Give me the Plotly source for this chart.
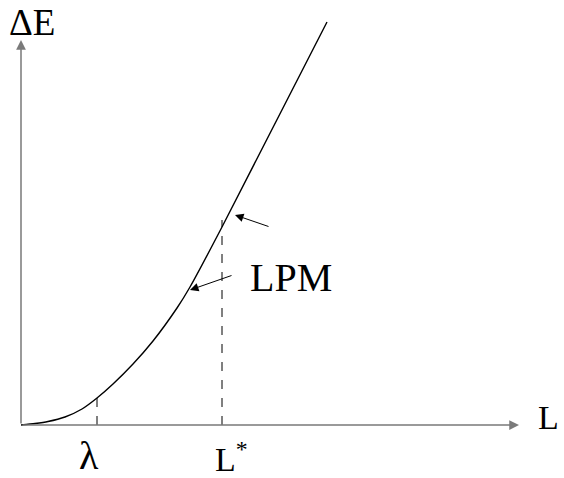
import plotly.graph_objects as go

# Curve data (L, ΔE) in arbitrary units
L_vals = [0.0, 0.14, 0.27, 0.44, 0.61, 0.76, 0.92, 1.12, 1.32, 1.56, 1.69, 2.01, 3.06]
E_vals = [0.0, 0.015, 0.035, 0.08, 0.16, 0.27, 0.41, 0.61, 0.84, 1.17, 1.38, 1.98, 4.03]

lambda_x = 0.76
lambda_top = 0.33
Lstar_x = 2.01
Lstar_top = 2.05

x_axis_end = 4.98
y_axis_end = 3.85

FONT = "Liberation Serif, Times New Roman, serif"

fig = go.Figure()

fig.add_trace(go.Scatter(x=L_vals, y=E_vals, mode="lines",
                         line=dict(color="black", width=1.4, shape="spline", smoothing=0.6),
                         hoverinfo="skip", showlegend=False))

# dashed markers
for xv, top in [(lambda_x, lambda_top), (Lstar_x, Lstar_top)]:
    fig.add_trace(go.Scatter(x=[xv, xv], y=[0, top], mode="lines",
                             line=dict(color="black", width=1, dash="dash"),
                             hoverinfo="skip", showlegend=False))

annotations = []
# axes with arrows
annotations.append(dict(x=x_axis_end, y=0, ax=0, ay=0, xref="x", yref="y", axref="x", ayref="y",
                        showarrow=True, arrowhead=2, arrowsize=1.3, arrowwidth=1.5, arrowcolor="#7a7a7a", text=""))
annotations.append(dict(x=0, y=y_axis_end, ax=0, ay=0, xref="x", yref="y", axref="x", ayref="y",
                        showarrow=True, arrowhead=2, arrowsize=1.3, arrowwidth=1.5, arrowcolor="#7a7a7a", text=""))
# LPM arrows
annotations.append(dict(x=2.14, y=2.10, ax=2.49, ay=1.98, xref="x", yref="y", axref="x", ayref="y",
                        showarrow=True, arrowhead=2, arrowsize=1.7, arrowwidth=1, arrowcolor="black", text=""))
annotations.append(dict(x=1.69, y=1.35, ax=2.12, ay=1.50, xref="x", yref="y", axref="x", ayref="y",
                        showarrow=True, arrowhead=2, arrowsize=1.7, arrowwidth=1, arrowcolor="black", text=""))

labels = [
    ("ΔE", 0.11, 4.03, 37),
    ("L", 5.27, 0.08, 34),
    ("λ", 0.68, -0.30, 40),
    ("L<sup>*</sup>", 2.10, -0.32, 34),
    ("LPM", 2.70, 1.48, 40),
]
for t, xv, yv, fs in labels:
    annotations.append(dict(x=xv, y=yv, xref="x", yref="y", text=t, showarrow=False,
                            font=dict(family=FONT, size=fs, color="black"),
                            xanchor="center", yanchor="middle"))

fig.update_layout(
    width=564, height=478, autosize=False,
    margin=dict(l=0, r=0, t=0, b=0),
    paper_bgcolor="white", plot_bgcolor="white",
    xaxis=dict(range=[-0.21, 5.43], visible=False, showgrid=False, zeroline=False, fixedrange=True),
    yaxis=dict(range=[-0.53, 4.25], visible=False, showgrid=False, zeroline=False, fixedrange=True),
    annotations=annotations,
    showlegend=False,
)

fig.write_html("out.html", config={"displayModeBar": False},
               post_script="document.body.style.margin='0';document.body.style.overflow='hidden';")
